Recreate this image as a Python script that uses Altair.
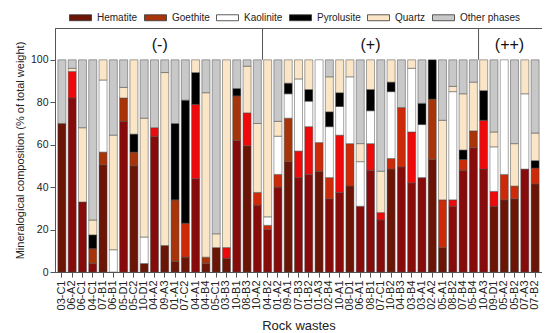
import altair as alt
import pandas as pd

samples = ["03-C1", "06-A2", "06-C1", "04-C1", "07-B1", "06-B1", "05-D1", "05-C2", "10-D1", "04-A2",
           "09-A3", "01-A1", "07-C2", "04-A1", "04-B4", "05-C1", "03-B3", "10-B1", "08-B3", "10-A2",
           "04-B2", "01-A2", "09-A1", "07-B3", "01-B2", "01-A3", "02-B4", "10-A1", "08-D1", "06-A1",
           "08-B1", "07-C1", "10-B2", "04-B3", "03-B4", "03-A1", "02-A2", "05-A1", "08-B2", "07-B4",
           "05-B4", "10-A3", "09-D1", "05-A2", "05-B2", "07-A3", "07-B2"]

hematite = [70, 82, 33, 4, 50.5, 0, 71, 50, 4, 64,
            12.5, 5, 7, 44, 4, 11.5, 6.5, 62, 59.5, 31.5,
            20, 40, 52, 44.5, 46, 47.5, 34.5, 37.5, 40.5, 31,
            48, 24.5, 48.5, 49.5, 42, 44.5, 53, 11.5, 31, 48,
            58.5, 48.5, 31, 34, 34.5, 48.5, 41.5]
goethite = [0, 12.5, 0, 7, 6, 0, 11, 6.5, 0, 4,
            0, 29, 16, 35, 3, 0, 5, 21, 15.5, 6,
            2, 6, 20.5, 12.5, 22.5, 13.5, 10, 27, 20, 0,
            12.5, 3.5, 5, 28, 24, 0, 28.5, 22.5, 3, 5,
            8, 23, 7, 12, 6, 0, 7.5]
kaolinite = [0, 0, 0, 0, 34, 10.5, 0, 0, 12.5, 0,
             0, 0, 0, 0, 0, 0, 0, 0, 0, 0,
             4, 18, 11.5, 34, 12, 39, 24, 13.5, 31.5, 21,
             15.5, 0, 31.5, 0, 30, 25, 0, 0, 51, 0,
             0, 0, 21, 54, 0, 35.5, 0]
pyrolusite = [0, 0, 0, 6.5, 0, 0, 0, 8.5, 0, 0,
              0, 36, 58, 15, 0, 0, 0, 3.5, 0, 0,
              0, 0, 5, 0, 5.5, 0, 7, 6.5, 0, 0,
              10, 0, 4.5, 0, 0, 10, 18.5, 0, 0, 4.5,
              0, 14, 0, 0, 0, 0, 3.5]
quartz = [0, 1.5, 35, 7, 9.5, 54, 5, 35, 56, 0,
          81.5, 0, 0, 6, 77.5, 6.5, 88.5, 0, 22, 32.5,
          74, 7, 11, 9, 14, 0, 16.5, 15.5, 8, 8.5,
          14, 19.5, 10.5, 0, 4, 0, 0, 37.5, 2.5, 26.5,
          23, 14.5, 7, 0, 20, 16, 13]
other = [30, 4, 32, 75.5, 0, 35.5, 13, 0, 27.5, 32,
         6, 30, 19, 0, 15.5, 82, 0, 13.5, 3, 30,
         0, 29, 0, 0, 0, 0, 8, 0, 0, 39.5,
         0, 52.5, 0, 22.5, 0, 20.5, 0, 28.5, 12.5, 16,
         10.5, 0, 34, 0, 39.5, 0, 34.5]

# shade of each sample's hematite / goethite fill
hem_shade = list("abbbabbaab" "aaabaaabab" "bbabbabbab" "bbabbbaabb" "bbaaaba")
goe_shade = list("abbaabaabb" "aacbacbabc" "ccabbccbcb" "bbccbbacbc" "abbccbc")

phases = ["Hematite", "Goethite", "Kaolinite", "Pyrolusite", "Quartz", "Other phases"]
series = [hematite, goethite, kaolinite, pyrolusite, quartz, other]

key_domain = ["Hematite", "Goethite", "Kaolinite", "Pyrolusite", "Quartz", "Other phases",
              "Hematite-b", "Goethite-b", "Goethite-c"]
key_colors = ["#6a1506", "#a8340a", "#ffffff", "#000000", "#fae5c6", "#c8c8c8",
              "#870b0b", "#ee0a0a", "#cc2a08"]

rows = []
for i, s in enumerate(samples):
    for j, ph in enumerate(phases):
        v = series[j][i]
        if v <= 0:
            continue
        key = ph
        if ph == "Hematite" and hem_shade[i] != "a":
            key = "Hematite-" + hem_shade[i]
        if ph == "Goethite" and goe_shade[i] != "a":
            key = "Goethite-" + goe_shade[i]
        rows.append({"sample": s, "phase": ph, "value": v, "key": key, "ord": j})
df = pd.DataFrame(rows)

group_edges = ["04-B2", "10-A3"]
group_labels_edge = ["(-)", "(++)"]
group_edge_at = ["09-A3", "05-B2"]
group_label_mid = ["(+)"]
group_mid_at = ["08-B1"]

xscale = alt.Scale(domain=samples, paddingInner=0.22, paddingOuter=0.28)

bars = alt.Chart(df).mark_bar(stroke="#4a4a4a", strokeWidth=0.5).encode(
    x=alt.X("sample:N", scale=xscale,
            axis=alt.Axis(title="Rock wastes", labelAngle=-90, labelFontSize=11,
                          titleFontSize=13, titleFontWeight="normal", labelColor="#222",
                          titleColor="#222", domainColor="#555", tickColor="#555",
                          labelPadding=3, titleY=53, titleBaseline="middle")),
    y=alt.Y("value:Q", stack="zero", scale=alt.Scale(domain=[0, 115], nice=False),
            axis=alt.Axis(title="Mineralogical composition (% of total weight)",
                          values=[0, 20, 40, 60, 80, 100], labelFontSize=10.5,
                          titleFontSize=11, titleFontWeight="normal", labelColor="#222",
                          titleColor="#222", domainColor="#555", tickColor="#555",
                          grid=False, titleX=-35, titleBaseline="middle")),
    color=alt.Color("key:N", scale=alt.Scale(domain=key_domain, range=key_colors),
                    legend=alt.Legend(title=None, values=phases, orient="none",
                                      direction="horizontal", legendX=14, legendY=-22,
                                      symbolType="M-1,-0.27H1V0.27H-1Z", symbolSize=484,
                                      symbolStrokeColor="#333", symbolStrokeWidth=0.8,
                                      labelFontSize=10, labelOffset=5, columnPadding=4,
                                      padding=0, labelColor="#222")),
    order=alt.Order("ord:Q", sort="ascending"),
)

sep = alt.Chart(pd.DataFrame({"sample": group_edges})).mark_rule(
    color="#555", strokeWidth=1, xOffset=-1.1).encode(
    x=alt.X("sample:N", scale=xscale, bandPosition=0),
    y=alt.datum(100), y2=alt.datum(115),
)

txt_edge = alt.Chart(pd.DataFrame({"sample": group_edge_at, "label": group_labels_edge})).mark_text(
    fontSize=16, color="#111", baseline="middle", dx=-1).encode(
    x=alt.X("sample:N", scale=xscale, bandPosition=0),
    y=alt.datum(107), text="label:N",
)
txt_mid = alt.Chart(pd.DataFrame({"sample": group_mid_at, "label": group_label_mid})).mark_text(
    fontSize=16, color="#111", baseline="middle").encode(
    x=alt.X("sample:N", scale=xscale, bandPosition=0.5),
    y=alt.datum(107), text="label:N",
)

chart = alt.layer(bars, sep, txt_edge, txt_mid).properties(
    width=487, height=244,
    autosize=alt.AutoSizeParams(type="none"),
    padding={"left": 47, "top": 20, "right": 0, "bottom": 70},
).configure(font="Liberation Sans").configure_view(stroke="#555", strokeWidth=1)

chart.save("out.html", embed_options={"renderer": "svg", "actions": False})
